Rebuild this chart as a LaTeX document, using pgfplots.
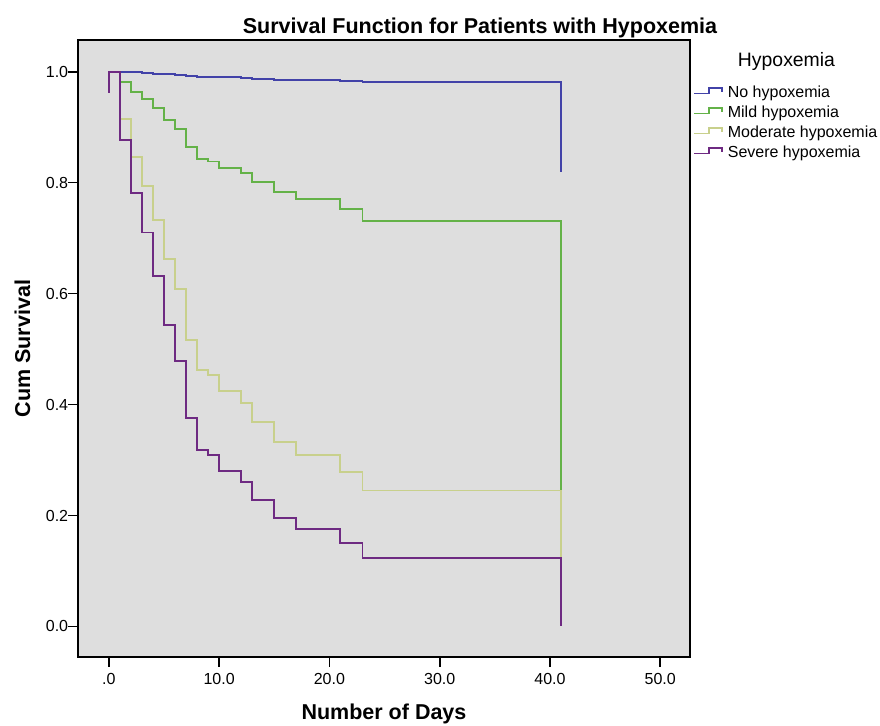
\documentclass[border=0pt]{standalone}
\usepackage{fontspec}
\setmainfont{Liberation Sans}
\usepackage{pgfplots}
\pgfplotsset{compat=1.18}
\definecolor{cblue}{RGB}{66,66,168}
\definecolor{cgreen}{RGB}{100,178,72}
\definecolor{ckhaki}{RGB}{200,208,140}
\definecolor{cpurple}{RGB}{110,42,130}
\definecolor{cbg}{RGB}{222,222,222}
\begin{document}
\begin{tikzpicture}
\useasboundingbox (-39pt,-34pt) rectangle (401pt,328.5pt);
\fill[white] (-39pt,-34pt) rectangle (401pt,328.5pt);
\begin{axis}[
  at={(0,0)}, anchor=south west, scale only axis,
  width=306pt, height=308.5pt,
  xmin=-2.8, xmax=52.7, ymin=-0.055, ymax=1.057,
  axis background/.style={fill=cbg},
  axis line style={line width=0.9pt},
  tick pos=left, tick align=outside, major tick length=4.75pt,
  every tick/.style={black, line width=0.9pt},
  xtick={0,10,20,30,40,50}, xticklabels={.0,10.0,20.0,30.0,40.0,50.0},
  ytick={0,0.2,0.4,0.6,0.8,1.0}, yticklabels={0.0,0.2,0.4,0.6,0.8,1.0},
  /pgf/number format/assume math mode=true,
  ticklabel style={font=\fontsize{8pt}{9.6pt}\selectfont, inner sep=0pt},
  yticklabel style={anchor=east},
  xticklabel style={anchor=north, yshift=-3pt},
  xlabel={Number of Days}, ylabel={Cum Survival},
  label style={font=\fontsize{10.75pt}{13pt}\selectfont\bfseries},
  xlabel style={at={(axis description cs:0.5,-0.1005)}, anchor=base},
  ylabel style={at={(axis description cs:-0.0784,0.5)}, anchor=base},
  const plot, no marks,
  every axis plot/.append style={line width=0.95pt},
  legend style={at={(axis description cs:1.005,0.9276)}, anchor=north west,
    draw=none, fill=none, inner sep=0pt, row sep=2pt, column sep=2.5pt,
    font=\fontsize{8pt}{9.6pt}\selectfont,
    nodes={inner sep=0pt, text height=6pt, text depth=2pt}},
  legend cell align=left,
  legend image code/.code={\draw[#1, line width=0.7pt] (0pt,-0.2pt) -- (7.5pt,-0.2pt) -- (7.5pt,2.6pt) -- (14pt,2.6pt) -- (14pt,0.6pt);},
]
\addplot[cblue] coordinates {(0,1.0) (2,0.9988) (3,0.998) (4,0.9964) (6,0.9946) (7,0.9928) (8,0.990) (12,0.988) (13,0.987) (15,0.9856) (17,0.9844) (21,0.9826) (23,0.9808) (41,0.819)};
\addlegendentry{No hypoxemia}
\addplot[cgreen] coordinates {(0,1.0) (1,0.981) (2,0.964) (3,0.950) (4,0.934) (5,0.913) (6,0.896) (7,0.864) (8,0.843) (9,0.838) (10,0.827) (12,0.817) (13,0.801) (15,0.783) (17,0.771) (21,0.752) (23,0.731) (41,0.246)};
\addlegendentry{Mild hypoxemia}
\addplot[ckhaki] coordinates {(0,1.0) (1,0.915) (2,0.846) (3,0.794) (4,0.733) (5,0.663) (6,0.609) (7,0.517) (8,0.462) (9,0.453) (10,0.424) (12,0.403) (13,0.368) (15,0.333) (17,0.309) (21,0.279) (23,0.245) (41,0.124)};
\addlegendentry{Moderate hypoxemia}
\addplot[cpurple] coordinates {(0,0.962) (0,1.0) (1,0.876) (2,0.781) (3,0.710) (4,0.631) (5,0.544) (6,0.479) (7,0.376) (8,0.318) (9,0.309) (10,0.280) (12,0.260) (13,0.228) (15,0.196) (17,0.176) (21,0.151) (23,0.124) (41,0.0)};
\addlegendentry{Severe hypoxemia}
\end{axis}
\node[anchor=base, font=\fontsize{10.75pt}{13pt}\selectfont\bfseries] at (201pt,312pt) {Survival Function for Patients with Hypoxemia};
\node[anchor=base, font=\fontsize{9.7pt}{11pt}\selectfont] at (354.25pt,295pt) {Hypoxemia};
\end{tikzpicture}
\end{document}
